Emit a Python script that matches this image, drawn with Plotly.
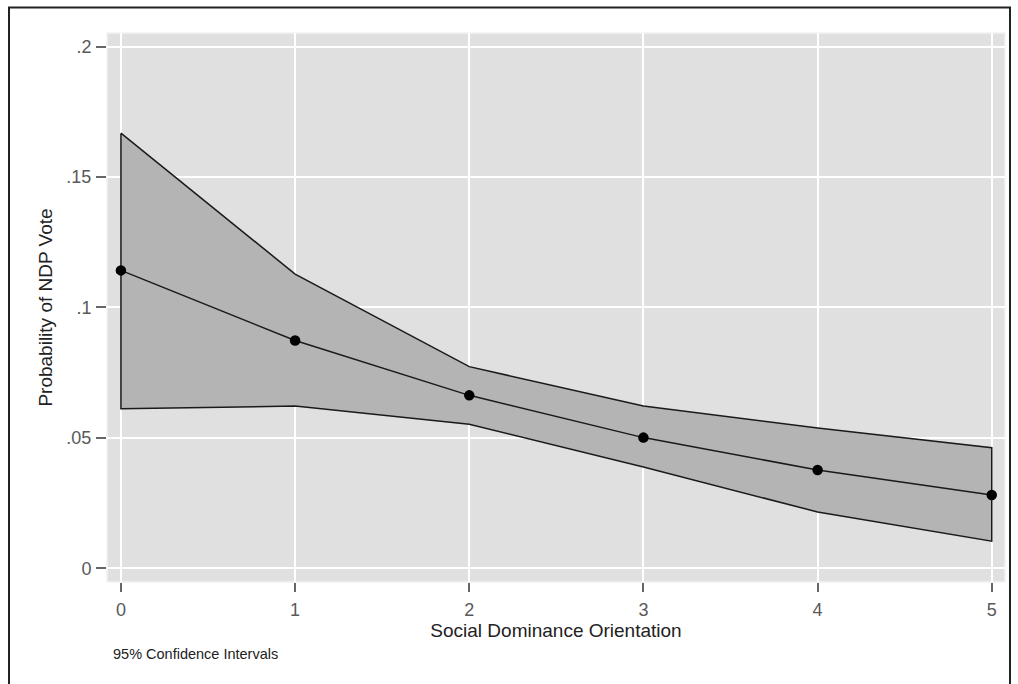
import plotly.graph_objects as go

sdo = [0, 1, 2, 3, 4, 5]
prob = [0.1142, 0.0873, 0.0663, 0.0501, 0.0377, 0.0281]
upper = [0.1668, 0.1128, 0.0773, 0.0622, 0.0538, 0.0462]
lower = [0.0612, 0.0622, 0.0552, 0.0388, 0.0216, 0.0104]
ytick_vals = [0, 0.05, 0.1, 0.15, 0.2]
ytick_text = ["0", ".05", ".1", ".15", ".2"]

W, H = 1018, 684
L, R, T, B = 107, 13, 33, 102
pw, ph = W - L - R, H - T - B

fig = go.Figure()
fig.add_trace(go.Scatter(
    x=sdo + sdo[::-1] + sdo[:1], y=upper + lower[::-1] + upper[:1],
    fill="toself", fillcolor="#b4b4b4", mode="lines",
    line=dict(color="#1a1a1a", width=1.5), hoverinfo="skip", showlegend=False))
fig.add_trace(go.Scatter(
    x=sdo, y=prob, mode="lines+markers",
    line=dict(color="#1a1a1a", width=1.5),
    marker=dict(color="black", size=10.5), showlegend=False))

FONT = "Liberation Sans, Arial"
axis_font = dict(family=FONT, size=18, color="#595959")
title_font = dict(family=FONT, size=19, color="#222222")
fig.update_layout(
    width=W, height=H,
    margin=dict(l=L, r=R, t=T, b=B),
    paper_bgcolor="white", plot_bgcolor="#e0e0e0",
    font=dict(family=FONT),
    xaxis=dict(range=[-0.08, 5.076], tickvals=sdo, ticktext=[str(v) for v in sdo],
               showgrid=True, gridcolor="white", gridwidth=1.5, zeroline=False,
               ticks="outside", ticklen=9, tickcolor="#666666", tickwidth=1.5,
               tickfont=axis_font, showline=False, ticklabelstandoff=2,
               title=dict(text="Social Dominance Orientation", standoff=4, font=title_font)),
    yaxis=dict(range=[-0.00525, 0.2052], tickvals=ytick_vals, ticktext=ytick_text,
               showgrid=True, gridcolor="white", gridwidth=1.5, zeroline=False,
               ticks="outside", ticklen=10, tickcolor="#666666", tickwidth=1.5,
               tickfont=axis_font, showline=False, ticklabelstandoff=1,
               title=dict(text="Probability of NDP Vote", standoff=8, font=title_font)),
    annotations=[dict(text="95% Confidence Intervals", xref="paper", yref="paper",
                      x=(111 - L) / pw, y=-(654 - (T + ph)) / ph, xanchor="left", yanchor="middle",
                      showarrow=False, font=dict(family=FONT, size=14.5, color="#222222"))],
    shapes=[
        dict(type="rect", xref="paper", yref="paper",
             x0=(9 - L) / pw, x1=(1010 - L) / pw, y0=-0.4, y1=1 + (T - 7.5) / ph,
             line=dict(color="#222222", width=2), fillcolor="rgba(0,0,0,0)", layer="above"),
        dict(type="rect", xref="paper", yref="paper", x0=0, x1=1, y0=0, y1=1,
             line=dict(color="#f2f2f2", width=1.5), fillcolor="rgba(0,0,0,0)", layer="below"),
    ],
)
fig.write_html("out.html")
